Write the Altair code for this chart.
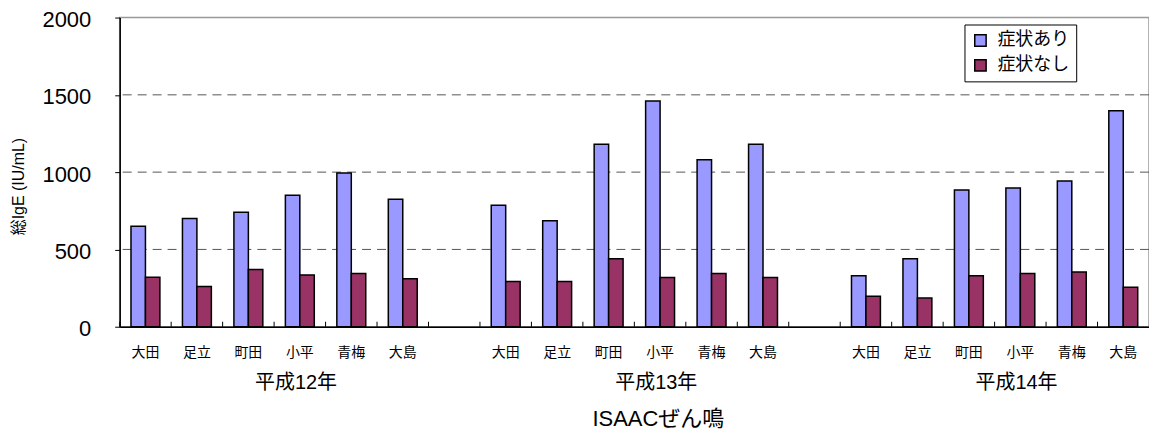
import altair as alt
import pandas as pd

# ---- data ----
regions = ['大田', '足立', '町田', '小平', '青梅', '大島']
years = ['平成12年', '平成13年', '平成14年']
series = ['症状あり', '症状なし']
yes_h12 = [650, 700, 740, 850, 995, 825]
no_h12 = [320, 260, 370, 335, 345, 310]
yes_h13 = [785, 685, 1180, 1460, 1080, 1180]
no_h13 = [292, 292, 440, 318, 344, 318]
yes_h14 = [330, 440, 885, 897, 942, 1397]
no_h14 = [197, 185, 330, 344, 354, 255]
y_ticks = [0, 500, 1000, 1500, 2000]
grid_values = [500, 1000, 1500]
colors = ['#9999FF', '#993366']

yes_all = [yes_h12, yes_h13, yes_h14]
no_all = [no_h12, no_h13, no_h14]

# slot keys (with empty slots between the years)
domain = []
for i, yr in enumerate(years):
    for r in regions:
        domain.append(f'{yr}|{r}')
    if i < len(years) - 1:
        domain.append(f'gap{i}')

rows = []
for yr, ys, ns in zip(years, yes_all, no_all):
    for r, a, b in zip(regions, ys, ns):
        rows.append({'key': f'{yr}|{r}', 'series': series[0], 'value': a})
        rows.append({'key': f'{yr}|{r}', 'series': series[1], 'value': b})
df = pd.DataFrame(rows)

ticks_df = pd.DataFrame({'key': domain})
group_df = pd.DataFrame({'key': [f'{yr}|{regions[3]}' for yr in years], 'label': years})
grid_df = pd.DataFrame({'value': grid_values})

FONT = 'Liberation Sans, Noto Sans CJK JP'

xscale = alt.Scale(domain=domain, paddingInner=0, paddingOuter=0)
yscale = alt.Scale(domain=[0, 2000])

x_axis = alt.Axis(
    title='ISAACぜん鳴',
    labelExpr="indexof(datum.value,'|')>=0 ? split(datum.value,'|')[1] : ''",
    labelAngle=0, labelFontSize=14, labelColor='black', labelPadding=19,
    ticks=False, domainColor='black', domainWidth=1.5,
    titleFontSize=22, titleFontWeight='normal', titleColor='black',
    titleX=539.5, titleY=92, titleAlign='center', titleBaseline='middle',
    labelFont=FONT, titleFont=FONT)

y_axis = alt.Axis(
    title='総IgE (IU/mL)', values=y_ticks, grid=False, format='d',
    labelFontSize=22, labelColor='black', labelPadding=24, labelOffset=2,
    labelBaseline='middle',
    tickSize=5, tickColor='black', domainColor='black', domainWidth=1.5,
    titleFontSize=16, titleFontWeight='normal', titleColor='black',
    titleX=-101, titleY=169, titleAlign='center', titleBaseline='middle',
    labelFont=FONT, titleFont=FONT)

grid = alt.Chart(grid_df).mark_rule(color='#555555', strokeWidth=1, strokeDash=[9, 6]).encode(
    y=alt.Y('value:Q', scale=yscale, axis=y_axis)
)

bars = alt.Chart(df).mark_bar(stroke='black', strokeWidth=1.5).encode(
    x=alt.X('key:N', scale=xscale, axis=x_axis),
    xOffset=alt.XOffset('series:N', scale=alt.Scale(domain=series, paddingInner=0, paddingOuter=0.78)),
    y=alt.Y('value:Q', scale=yscale, axis=y_axis),
    color=alt.Color('series:N', scale=alt.Scale(domain=series, range=colors),
                    legend=alt.Legend(orient='none', legendX=847, legendY=7, title=None,
                                      symbolType='square', symbolSize=130,
                                      symbolStrokeColor='black', symbolStrokeWidth=1.5,
                                      labelFontSize=18, labelFont=FONT, labelColor='black',
                                      labelOffset=8, strokeColor='black', fillColor='white',
                                      padding=7, rowPadding=7)),
)

inner_ticks = alt.Chart(ticks_df).mark_rule(color='black', strokeWidth=1).encode(
    x=alt.X('key:N', scale=xscale, bandPosition=0, axis=x_axis),
    y=alt.value(310), y2=alt.value(305)
)

group_labels = alt.Chart(group_df).mark_text(fontSize=20, font=FONT, color='black',
                                              baseline='middle', align='center', dx=22).encode(
    x=alt.X('key:N', scale=xscale, bandPosition=0, axis=x_axis),
    y=alt.value(366),
    text='label:N'
)

chart = alt.layer(grid, bars, inner_ticks, group_labels).properties(
    width=1032, height=310,
    autosize=alt.AutoSizeParams(type='none'),
    padding={'left': 112, 'top': 9, 'right': 0, 'bottom': 106},
).configure(font=FONT).configure_view(stroke='#999999', strokeWidth=1.5)

chart.save('out.html', embed_options={'renderer': 'svg', 'actions': False})
